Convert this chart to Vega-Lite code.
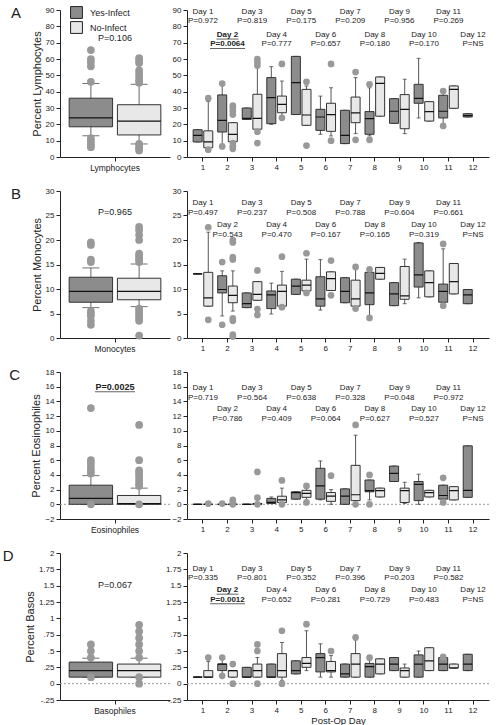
{
"$schema":"https://vega.github.io/schema/vega-lite/v6.json",
"padding":{"left":2,"top":6,"right":2,"bottom":2},
"config":{
 "font":"Liberation Sans",
 "view":{"stroke":null},
 "axis":{"grid":false,"domainColor":"#222","tickColor":"#222","labelColor":"#222","titleColor":"#222","labelFontSize":8,"titleFontSize":11,"titleFontWeight":"normal","tickSize":4,"labelPadding":2,"labelOverlap":false},
 "axisY":{"titlePadding":3},
 "title":{"font":"Liberation Sans","color":"#222"}
},
"datasets":{
 "boxAL":[
  {"cell":"Lymphocytes","group":"Yes-Infect","q1":18.5,"med":24,"q3":36,"lo":13,"hi":45},
  {"cell":"Lymphocytes","group":"No-Infect","q1":13.5,"med":22,"q3":32,"lo":8,"hi":44.5}],
 "outAL":[
  {"cell":"Lymphocytes","group":"Yes-Infect","v":65.5},{"cell":"Lymphocytes","group":"Yes-Infect","v":60},{"cell":"Lymphocytes","group":"Yes-Infect","v":58},{"cell":"Lymphocytes","group":"Yes-Infect","v":55.5},{"cell":"Lymphocytes","group":"Yes-Infect","v":46},{"cell":"Lymphocytes","group":"Yes-Infect","v":11.5},{"cell":"Lymphocytes","group":"Yes-Infect","v":10},{"cell":"Lymphocytes","group":"Yes-Infect","v":8.5},{"cell":"Lymphocytes","group":"Yes-Infect","v":7},{"cell":"Lymphocytes","group":"Yes-Infect","v":6},
  {"cell":"Lymphocytes","group":"No-Infect","v":60.5},{"cell":"Lymphocytes","group":"No-Infect","v":59},{"cell":"Lymphocytes","group":"No-Infect","v":57.5},{"cell":"Lymphocytes","group":"No-Infect","v":53},{"cell":"Lymphocytes","group":"No-Infect","v":51},{"cell":"Lymphocytes","group":"No-Infect","v":49},{"cell":"Lymphocytes","group":"No-Infect","v":47},{"cell":"Lymphocytes","group":"No-Infect","v":45.5},{"cell":"Lymphocytes","group":"No-Infect","v":8},{"cell":"Lymphocytes","group":"No-Infect","v":6.5},{"cell":"Lymphocytes","group":"No-Infect","v":5},{"cell":"Lymphocytes","group":"No-Infect","v":4}],
 "boxA":[
  {"day":1,"group":"Yes-Infect","q1":9.2,"med":13.3,"q3":16.7,"lo":9.2,"hi":16.7},
  {"day":1,"group":"No-Infect","q1":5.7,"med":9.2,"q3":16,"lo":5.7,"hi":34},
  {"day":2,"group":"Yes-Infect","q1":15.3,"med":22.4,"q3":38,"lo":6.5,"hi":45},
  {"day":2,"group":"No-Infect","q1":9.4,"med":13.9,"q3":21,"lo":9.4,"hi":21},
  {"day":3,"group":"Yes-Infect","q1":23,"med":23.6,"q3":30,"lo":23,"hi":30},
  {"day":3,"group":"No-Infect","q1":17,"med":23.7,"q3":38.4,"lo":17,"hi":54.7},
  {"day":4,"group":"Yes-Infect","q1":20.4,"med":36.3,"q3":48.6,"lo":20,"hi":55.3},
  {"day":4,"group":"No-Infect","q1":27.1,"med":32.2,"q3":37.3,"lo":24,"hi":46.5},
  {"day":5,"group":"Yes-Infect","q1":26,"med":45.5,"q3":61.6,"lo":26,"hi":61.6},
  {"day":5,"group":"No-Infect","q1":19.4,"med":25.7,"q3":41.4,"lo":19.4,"hi":43.5},
  {"day":6,"group":"Yes-Infect","q1":16.3,"med":24.5,"q3":29.2,"lo":13.9,"hi":37.3},
  {"day":6,"group":"No-Infect","q1":15.7,"med":26,"q3":32.9,"lo":12.9,"hi":42.4},
  {"day":7,"group":"Yes-Infect","q1":8.2,"med":13.3,"q3":28.6,"lo":8.2,"hi":28.6},
  {"day":7,"group":"No-Infect","q1":21,"med":27,"q3":36.7,"lo":14.3,"hi":48.6},
  {"day":8,"group":"Yes-Infect","q1":13.9,"med":23.5,"q3":27.8,"lo":12.9,"hi":42.4},
  {"day":8,"group":"No-Infect","q1":25,"med":45.1,"q3":49,"lo":25,"hi":49},
  {"day":9,"group":"Yes-Infect","q1":20.6,"med":28,"q3":35.7,"lo":20.6,"hi":35.7},
  {"day":9,"group":"No-Infect","q1":17.3,"med":29.2,"q3":38.2,"lo":14.3,"hi":47.6},
  {"day":10,"group":"Yes-Infect","q1":32.9,"med":35.9,"q3":44.5,"lo":23.9,"hi":60.4},
  {"day":10,"group":"No-Infect","q1":22,"med":27.8,"q3":33.9,"lo":22,"hi":33.9},
  {"day":11,"group":"Yes-Infect","q1":23.9,"med":28,"q3":37.8,"lo":19,"hi":40.4},
  {"day":11,"group":"No-Infect","q1":29.8,"med":41.4,"q3":43.5,"lo":29.8,"hi":43.5},
  {"day":12,"group":"Yes-Infect","q1":24.5,"med":25.3,"q3":26.5,"lo":24.5,"hi":26.5}],
 "outA":[
  {"day":1,"group":"No-Infect","v":36},{"day":1,"group":"No-Infect","v":4.5},
  {"day":2,"group":"Yes-Infect","v":45},{"day":2,"group":"Yes-Infect","v":6.5},
  {"day":2,"group":"No-Infect","v":31.5},{"day":2,"group":"No-Infect","v":30},{"day":2,"group":"No-Infect","v":28},{"day":2,"group":"No-Infect","v":26},{"day":2,"group":"No-Infect","v":8.5},{"day":2,"group":"No-Infect","v":6.5},{"day":2,"group":"No-Infect","v":5},
  {"day":3,"group":"No-Infect","v":60},{"day":3,"group":"No-Infect","v":58},{"day":3,"group":"No-Infect","v":56},{"day":3,"group":"No-Infect","v":15.5},{"day":3,"group":"No-Infect","v":8.5},
  {"day":4,"group":"No-Infect","v":57},{"day":4,"group":"No-Infect","v":24},
  {"day":5,"group":"No-Infect","v":46},{"day":5,"group":"No-Infect","v":7},
  {"day":6,"group":"No-Infect","v":57},{"day":6,"group":"No-Infect","v":10},
  {"day":7,"group":"No-Infect","v":52},{"day":7,"group":"No-Infect","v":10.5},
  {"day":8,"group":"Yes-Infect","v":44.5},{"day":8,"group":"Yes-Infect","v":10.5},
  {"day":11,"group":"Yes-Infect","v":40.4},{"day":11,"group":"Yes-Infect","v":19}],
 "annA":[
  {"day":1,"lab":"Day 1\nP=0.972"},{"day":2,"lab":"Day 2\nP=0.0064"},{"day":3,"lab":"Day 3\nP=0.819"},{"day":4,"lab":"Day 4\nP=0.777"},{"day":5,"lab":"Day 5\nP=0.175"},{"day":6,"lab":"Day 6\nP=0.657"},{"day":7,"lab":"Day 7\nP=0.209"},{"day":8,"lab":"Day 8\nP=0.180"},{"day":9,"lab":"Day 9\nP=0.956"},{"day":10,"lab":"Day 10\nP=0.170"},{"day":11,"lab":"Day 11\nP=0.269"},{"day":12,"lab":"Day 12\nP=NS"}],
 "boxBL":[
  {"cell":"Monocytes","group":"Yes-Infect","q1":7.3,"med":9.5,"q3":12.4,"lo":6.2,"hi":14.3},
  {"cell":"Monocytes","group":"No-Infect","q1":7.8,"med":9.5,"q3":12.2,"lo":6.4,"hi":15.1}],
 "outBL":[
  {"cell":"Monocytes","group":"Yes-Infect","v":19.5},{"cell":"Monocytes","group":"Yes-Infect","v":19},{"cell":"Monocytes","group":"Yes-Infect","v":16},{"cell":"Monocytes","group":"Yes-Infect","v":15.5},{"cell":"Monocytes","group":"Yes-Infect","v":5.5},{"cell":"Monocytes","group":"Yes-Infect","v":5},{"cell":"Monocytes","group":"Yes-Infect","v":4.5},{"cell":"Monocytes","group":"Yes-Infect","v":3.5},{"cell":"Monocytes","group":"Yes-Infect","v":2.7},
  {"cell":"Monocytes","group":"No-Infect","v":22.7},{"cell":"Monocytes","group":"No-Infect","v":22},{"cell":"Monocytes","group":"No-Infect","v":21},{"cell":"Monocytes","group":"No-Infect","v":20},{"cell":"Monocytes","group":"No-Infect","v":17.2},{"cell":"Monocytes","group":"No-Infect","v":16.8},{"cell":"Monocytes","group":"No-Infect","v":16.4},{"cell":"Monocytes","group":"No-Infect","v":16},{"cell":"Monocytes","group":"No-Infect","v":15.5},{"cell":"Monocytes","group":"No-Infect","v":6},{"cell":"Monocytes","group":"No-Infect","v":5.5},{"cell":"Monocytes","group":"No-Infect","v":5},{"cell":"Monocytes","group":"No-Infect","v":4.5},{"cell":"Monocytes","group":"No-Infect","v":4},{"cell":"Monocytes","group":"No-Infect","v":3.5},{"cell":"Monocytes","group":"No-Infect","v":0.5}],
 "boxB":[
  {"day":1,"group":"Yes-Infect","q1":13.1,"med":13.1,"q3":13.1,"lo":13.1,"hi":13.1},
  {"day":1,"group":"No-Infect","q1":6.5,"med":8.2,"q3":13.4,"lo":6.5,"hi":21.6},
  {"day":2,"group":"Yes-Infect","q1":9.2,"med":9.9,"q3":12.7,"lo":4.5,"hi":13.7},
  {"day":2,"group":"No-Infect","q1":7.2,"med":8.7,"q3":10.6,"lo":5.5,"hi":13.7},
  {"day":3,"group":"Yes-Infect","q1":6.2,"med":7.0,"q3":9.2,"lo":6.2,"hi":9.2},
  {"day":3,"group":"No-Infect","q1":7.7,"med":8.9,"q3":11.5,"lo":7.7,"hi":11.5},
  {"day":4,"group":"Yes-Infect","q1":6.0,"med":8.8,"q3":9.6,"lo":4.9,"hi":11.2},
  {"day":4,"group":"No-Infect","q1":6.5,"med":9.5,"q3":10.8,"lo":6.5,"hi":13.6},
  {"day":5,"group":"Yes-Infect","q1":8.9,"med":10.6,"q3":12,"lo":8.9,"hi":12},
  {"day":5,"group":"No-Infect","q1":9.6,"med":10.8,"q3":11.8,"lo":9.6,"hi":16.1},
  {"day":6,"group":"Yes-Infect","q1":6.5,"med":8,"q3":12.5,"lo":5.7,"hi":16},
  {"day":6,"group":"No-Infect","q1":9.7,"med":12.1,"q3":13.5,"lo":9.7,"hi":13.5},
  {"day":7,"group":"Yes-Infect","q1":7.2,"med":9.5,"q3":12.3,"lo":7.2,"hi":12.3},
  {"day":7,"group":"No-Infect","q1":6.5,"med":8,"q3":11.8,"lo":6.5,"hi":14.5},
  {"day":8,"group":"Yes-Infect","q1":6.8,"med":9.2,"q3":13.4,"lo":4.1,"hi":14},
  {"day":8,"group":"No-Infect","q1":12,"med":13.2,"q3":14.4,"lo":12,"hi":14.4},
  {"day":9,"group":"Yes-Infect","q1":6.6,"med":9,"q3":11.3,"lo":6.6,"hi":11.3},
  {"day":9,"group":"No-Infect","q1":7.9,"med":8.6,"q3":14.6,"lo":7,"hi":16.1},
  {"day":10,"group":"Yes-Infect","q1":10.4,"med":12.9,"q3":19.4,"lo":8.2,"hi":19.5},
  {"day":10,"group":"No-Infect","q1":8.4,"med":11.3,"q3":13.7,"lo":8.4,"hi":13.7},
  {"day":11,"group":"Yes-Infect","q1":7.3,"med":9.5,"q3":11,"lo":7.3,"hi":18.2},
  {"day":11,"group":"No-Infect","q1":9,"med":11.5,"q3":15.2,"lo":9,"hi":15.2},
  {"day":12,"group":"Yes-Infect","q1":7,"med":8.8,"q3":9.9,"lo":7,"hi":9.9}],
 "outB":[
  {"day":1,"group":"No-Infect","v":22.6},{"day":1,"group":"No-Infect","v":3.7},
  {"day":2,"group":"Yes-Infect","v":15.5},{"day":2,"group":"Yes-Infect","v":2.7},
  {"day":2,"group":"No-Infect","v":20},{"day":2,"group":"No-Infect","v":19.5},{"day":2,"group":"No-Infect","v":16.5},{"day":2,"group":"No-Infect","v":16},{"day":2,"group":"No-Infect","v":4},{"day":2,"group":"No-Infect","v":3.5},{"day":2,"group":"No-Infect","v":0.7},{"day":2,"group":"No-Infect","v":0.3},
  {"day":3,"group":"No-Infect","v":13.8},{"day":3,"group":"No-Infect","v":5.9},{"day":3,"group":"No-Infect","v":4.7},
  {"day":4,"group":"No-Infect","v":16.6},{"day":4,"group":"No-Infect","v":6.3},
  {"day":5,"group":"No-Infect","v":17.3},{"day":5,"group":"No-Infect","v":9.2},
  {"day":6,"group":"No-Infect","v":15.8},{"day":6,"group":"No-Infect","v":8.7},
  {"day":7,"group":"No-Infect","v":14.5},{"day":7,"group":"No-Infect","v":6.0},
  {"day":8,"group":"Yes-Infect","v":14},{"day":8,"group":"Yes-Infect","v":4.1},
  {"day":11,"group":"Yes-Infect","v":19.2},{"day":11,"group":"Yes-Infect","v":6.6}],
 "annB":[
  {"day":1,"lab":"Day 1\nP=0.497"},{"day":2,"lab":"Day 2\nP=0.543"},{"day":3,"lab":"Day 3\nP=0.237"},{"day":4,"lab":"Day 4\nP=0.470"},{"day":5,"lab":"Day 5\nP=0.508"},{"day":6,"lab":"Day 6\nP=0.167"},{"day":7,"lab":"Day 7\nP=0.788"},{"day":8,"lab":"Day 8\nP=0.165"},{"day":9,"lab":"Day 9\nP=0.604"},{"day":10,"lab":"Day 10\nP=0.319"},{"day":11,"lab":"Day 11\nP=0.661"},{"day":12,"lab":"Day 12\nP=NS"}],
 "boxCL":[
  {"cell":"Eosinophiles","group":"Yes-Infect","q1":0,"med":0.8,"q3":2.6,"lo":0,"hi":3.9},
  {"cell":"Eosinophiles","group":"No-Infect","q1":0,"med":0.1,"q3":1.2,"lo":0,"hi":2.2}],
 "outCL":[
  {"cell":"Eosinophiles","group":"Yes-Infect","v":13.1},{"cell":"Eosinophiles","group":"Yes-Infect","v":6},{"cell":"Eosinophiles","group":"Yes-Infect","v":5.6},{"cell":"Eosinophiles","group":"Yes-Infect","v":5.1},{"cell":"Eosinophiles","group":"Yes-Infect","v":4.6},{"cell":"Eosinophiles","group":"Yes-Infect","v":4.2},{"cell":"Eosinophiles","group":"Yes-Infect","v":0},
  {"cell":"Eosinophiles","group":"No-Infect","v":10.8},{"cell":"Eosinophiles","group":"No-Infect","v":6},{"cell":"Eosinophiles","group":"No-Infect","v":4.6},{"cell":"Eosinophiles","group":"No-Infect","v":4.3},{"cell":"Eosinophiles","group":"No-Infect","v":4},{"cell":"Eosinophiles","group":"No-Infect","v":3.6},{"cell":"Eosinophiles","group":"No-Infect","v":3.2},{"cell":"Eosinophiles","group":"No-Infect","v":2.8},{"cell":"Eosinophiles","group":"No-Infect","v":2.5},{"cell":"Eosinophiles","group":"No-Infect","v":0}],
 "boxC":[
  {"day":1,"group":"Yes-Infect","q1":0,"med":0,"q3":0,"lo":0,"hi":0},
  {"day":1,"group":"No-Infect","q1":0,"med":0,"q3":0,"lo":0,"hi":0},
  {"day":2,"group":"Yes-Infect","q1":0,"med":0,"q3":0,"lo":0,"hi":0},
  {"day":2,"group":"No-Infect","q1":0,"med":0,"q3":0,"lo":0,"hi":0},
  {"day":3,"group":"Yes-Infect","q1":0,"med":0,"q3":0,"lo":0,"hi":0},
  {"day":3,"group":"No-Infect","q1":0,"med":0.05,"q3":0.1,"lo":0,"hi":0.1},
  {"day":4,"group":"Yes-Infect","q1":0.1,"med":0.25,"q3":0.8,"lo":0.1,"hi":1.0},
  {"day":4,"group":"No-Infect","q1":0.25,"med":0.6,"q3":1.1,"lo":0.25,"hi":2.2},
  {"day":5,"group":"Yes-Infect","q1":0.7,"med":1.6,"q3":1.7,"lo":0.7,"hi":1.7},
  {"day":5,"group":"No-Infect","q1":0.95,"med":1.5,"q3":1.9,"lo":0.5,"hi":2.2},
  {"day":6,"group":"Yes-Infect","q1":0.7,"med":2.5,"q3":4.9,"lo":0.6,"hi":5.9},
  {"day":6,"group":"No-Infect","q1":0.4,"med":1.1,"q3":1.6,"lo":0,"hi":2.0},
  {"day":7,"group":"Yes-Infect","q1":0,"med":1.1,"q3":2.1,"lo":0,"hi":2.1},
  {"day":7,"group":"No-Infect","q1":0.5,"med":1.3,"q3":5.3,"lo":0.5,"hi":9.4},
  {"day":8,"group":"Yes-Infect","q1":1.7,"med":1.85,"q3":3.3,"lo":0.6,"hi":3.3},
  {"day":8,"group":"No-Infect","q1":1.0,"med":1.85,"q3":2.2,"lo":1.0,"hi":2.2},
  {"day":9,"group":"Yes-Infect","q1":3.1,"med":4.2,"q3":5.2,"lo":3.1,"hi":5.2},
  {"day":9,"group":"No-Infect","q1":0.25,"med":1.85,"q3":2.2,"lo":0.1,"hi":3.0},
  {"day":10,"group":"Yes-Infect","q1":0.5,"med":2.7,"q3":3.1,"lo":0,"hi":4.1},
  {"day":10,"group":"No-Infect","q1":1.0,"med":1.6,"q3":1.9,"lo":1.0,"hi":1.9},
  {"day":11,"group":"Yes-Infect","q1":0.7,"med":1.2,"q3":2.6,"lo":0.7,"hi":2.6},
  {"day":11,"group":"No-Infect","q1":0.6,"med":1.85,"q3":2.4,"lo":0.6,"hi":2.4},
  {"day":12,"group":"Yes-Infect","q1":0.95,"med":1.9,"q3":7.95,"lo":0.95,"hi":7.95}],
 "outC":[
  {"day":1,"group":"No-Infect","v":0.1},
  {"day":2,"group":"Yes-Infect","v":0.1},
  {"day":2,"group":"No-Infect","v":0.6},{"day":2,"group":"No-Infect","v":0.3},{"day":2,"group":"No-Infect","v":0},
  {"day":3,"group":"No-Infect","v":4.4},{"day":3,"group":"No-Infect","v":0.9},{"day":3,"group":"No-Infect","v":0},
  {"day":4,"group":"No-Infect","v":3.25},{"day":4,"group":"No-Infect","v":0},
  {"day":5,"group":"No-Infect","v":2.5},{"day":5,"group":"No-Infect","v":0.25},
  {"day":6,"group":"No-Infect","v":3.9},
  {"day":7,"group":"No-Infect","v":10.8},{"day":7,"group":"No-Infect","v":0},
  {"day":8,"group":"Yes-Infect","v":4.0},{"day":8,"group":"Yes-Infect","v":0},
  {"day":11,"group":"Yes-Infect","v":3.6},{"day":11,"group":"Yes-Infect","v":0.25}],
 "annC":[
  {"day":1,"lab":"Day 1\nP=0.719"},{"day":2,"lab":"Day 2\nP=0.786"},{"day":3,"lab":"Day 3\nP=0.564"},{"day":4,"lab":"Day 4\nP=0.409"},{"day":5,"lab":"Day 5\nP=0.638"},{"day":6,"lab":"Day 6\nP=0.064"},{"day":7,"lab":"Day 7\nP=0.328"},{"day":8,"lab":"Day 8\nP=0.627"},{"day":9,"lab":"Day 9\nP=0.048"},{"day":10,"lab":"Day 10\nP=0.527"},{"day":11,"lab":"Day 11\nP=0.972"},{"day":12,"lab":"Day 12\nP=NS"}],
 "boxDL":[
  {"cell":"Basophiles","group":"Yes-Infect","q1":0.1,"med":0.2,"q3":0.33,"lo":0.1,"hi":0.39},
  {"cell":"Basophiles","group":"No-Infect","q1":0.1,"med":0.2,"q3":0.3,"lo":0.1,"hi":0.39}],
 "outDL":[
  {"cell":"Basophiles","group":"Yes-Infect","v":0.6},{"cell":"Basophiles","group":"Yes-Infect","v":0.5},{"cell":"Basophiles","group":"Yes-Infect","v":0.4},{"cell":"Basophiles","group":"Yes-Infect","v":0.1},
  {"cell":"Basophiles","group":"No-Infect","v":0.9},{"cell":"Basophiles","group":"No-Infect","v":0.8},{"cell":"Basophiles","group":"No-Infect","v":0.7},{"cell":"Basophiles","group":"No-Infect","v":0.6},{"cell":"Basophiles","group":"No-Infect","v":0.5},{"cell":"Basophiles","group":"No-Infect","v":0.4},{"cell":"Basophiles","group":"No-Infect","v":0.1},{"cell":"Basophiles","group":"No-Infect","v":0}],
 "boxD":[
  {"day":1,"group":"Yes-Infect","q1":0.1,"med":0.1,"q3":0.1,"lo":0.1,"hi":0.1},
  {"day":1,"group":"No-Infect","q1":0.1,"med":0.1,"q3":0.2,"lo":0.1,"hi":0.34},
  {"day":2,"group":"Yes-Infect","q1":0.2,"med":0.3,"q3":0.3,"lo":0.12,"hi":0.4},
  {"day":2,"group":"No-Infect","q1":0.1,"med":0.2,"q3":0.2,"lo":0.1,"hi":0.2},
  {"day":3,"group":"Yes-Infect","q1":0.1,"med":0.1,"q3":0.25,"lo":0.1,"hi":0.25},
  {"day":3,"group":"No-Infect","q1":0.1,"med":0.2,"q3":0.3,"lo":0.1,"hi":0.4},
  {"day":4,"group":"Yes-Infect","q1":0.1,"med":0.1,"q3":0.3,"lo":0.1,"hi":0.3},
  {"day":4,"group":"No-Infect","q1":0.1,"med":0.2,"q3":0.46,"lo":0.05,"hi":0.63},
  {"day":5,"group":"Yes-Infect","q1":0.15,"med":0.2,"q3":0.35,"lo":0.15,"hi":0.35},
  {"day":5,"group":"No-Infect","q1":0.25,"med":0.31,"q3":0.4,"lo":0.2,"hi":0.81},
  {"day":6,"group":"Yes-Infect","q1":0.18,"med":0.4,"q3":0.46,"lo":0.1,"hi":0.61},
  {"day":6,"group":"No-Infect","q1":0.18,"med":0.2,"q3":0.34,"lo":0.1,"hi":0.43},
  {"day":7,"group":"Yes-Infect","q1":0.1,"med":0.15,"q3":0.3,"lo":0.1,"hi":0.3},
  {"day":7,"group":"No-Infect","q1":0.1,"med":0.3,"q3":0.46,"lo":0.1,"hi":0.67},
  {"day":8,"group":"Yes-Infect","q1":0.1,"med":0.26,"q3":0.31,"lo":0.1,"hi":0.36},
  {"day":8,"group":"No-Infect","q1":0.15,"med":0.3,"q3":0.38,"lo":0.15,"hi":0.38},
  {"day":9,"group":"Yes-Infect","q1":0.2,"med":0.3,"q3":0.4,"lo":0.2,"hi":0.4},
  {"day":9,"group":"No-Infect","q1":0.1,"med":0.2,"q3":0.24,"lo":0.1,"hi":0.3},
  {"day":10,"group":"Yes-Infect","q1":0.1,"med":0.3,"q3":0.44,"lo":0.1,"hi":0.5},
  {"day":10,"group":"No-Infect","q1":0.2,"med":0.35,"q3":0.55,"lo":0.2,"hi":0.55},
  {"day":11,"group":"Yes-Infect","q1":0.2,"med":0.3,"q3":0.4,"lo":0.2,"hi":0.4},
  {"day":11,"group":"No-Infect","q1":0.24,"med":0.24,"q3":0.3,"lo":0.24,"hi":0.3},
  {"day":12,"group":"Yes-Infect","q1":0.2,"med":0.3,"q3":0.45,"lo":0.2,"hi":0.45}],
 "outD":[
  {"day":1,"group":"No-Infect","v":0.4},
  {"day":2,"group":"Yes-Infect","v":0.4},{"day":2,"group":"Yes-Infect","v":0.12},
  {"day":2,"group":"No-Infect","v":0.3},{"day":2,"group":"No-Infect","v":0},
  {"day":3,"group":"No-Infect","v":0.6},{"day":3,"group":"No-Infect","v":0.5},{"day":3,"group":"No-Infect","v":0},
  {"day":4,"group":"No-Infect","v":0.81},{"day":4,"group":"No-Infect","v":0},
  {"day":5,"group":"No-Infect","v":0.91},
  {"day":6,"group":"No-Infect","v":0.5},
  {"day":7,"group":"No-Infect","v":0.71},
  {"day":8,"group":"Yes-Infect","v":0.4},
  {"day":11,"group":"Yes-Infect","v":0.41}],
 "annD":[
  {"day":1,"lab":"Day 1\nP=0.335"},{"day":2,"lab":"Day 2\nP=0.0012"},{"day":3,"lab":"Day 3\nP=0.801"},{"day":4,"lab":"Day 4\nP=0.652"},{"day":5,"lab":"Day 5\nP=0.352"},{"day":6,"lab":"Day 6\nP=0.281"},{"day":7,"lab":"Day 7\nP=0.396"},{"day":8,"lab":"Day 8\nP=0.729"},{"day":9,"lab":"Day 9\nP=0.203"},{"day":10,"lab":"Day 10\nP=0.483"},{"day":11,"lab":"Day 11\nP=0.582"},{"day":12,"lab":"Day 12\nP=NS"}]
},
"spacing":15,
"resolve":{"scale":{"fill":"independent","xOffset":"independent"},"legend":{"fill":"independent"}},
"vconcat":[
{"spacing":17,"bounds":"flush","resolve":{"scale":{"fill":"independent","xOffset":"independent"},"legend":{"fill":"independent"}},
 "hconcat":[
 {"width":110,"height":147,
  "title":{"text":"A","orient":"left","anchor":"end","angle":0,"fontSize":15,"fontWeight":"normal","baseline":"top","offset":0},
  "layer":[{"encoding":{"x":{"field":"cell","type":"nominal","scale":{"paddingInner":0,"paddingOuter":0.1},"axis":{"labelAngle":0,"labelFontSize":8.5},"title":null}},
   "layer":[
    {"data":{"name":"boxAL"},"mark":{"type":"rule","color":"#666"},"encoding":{"xOffset":{"field":"group","type":"nominal","scale":{"domain":["Yes-Infect","No-Infect"],"paddingInner":0.1}},"y":{"field":"lo","type":"quantitative","scale":{"domain":[0,90],"nice":false,"zero":false},"axis":{"values":[0,10,20,30,40,50,60,70,80,90],"tickCount":12,"labelOverlap":false,"labelBound":false},"title":"Percent Lymphocytes"},"y2":{"field":"hi"}}},
    {"data":{"name":"boxAL"},"mark":{"type":"tick","color":"#333","size":17,"thickness":1},"encoding":{"xOffset":{"field":"group","type":"nominal"},"y":{"field":"lo","type":"quantitative","title":"Percent Lymphocytes"}}},
    {"data":{"name":"boxAL"},"mark":{"type":"tick","color":"#333","size":17,"thickness":1},"encoding":{"xOffset":{"field":"group","type":"nominal"},"y":{"field":"hi","type":"quantitative","title":"Percent Lymphocytes"}}},
    {"data":{"name":"boxAL"},"mark":{"type":"bar","stroke":"#333","strokeWidth":1},"encoding":{"xOffset":{"field":"group","type":"nominal"},"y":{"field":"q1","type":"quantitative","title":"Percent Lymphocytes"},"y2":{"field":"q3"},"fill":{"field":"group","type":"nominal","scale":{"domain":["Yes-Infect","No-Infect"],"range":["#8c8c8c","#e8e8e8"]},"legend":{"orient":"none","legendX":10,"legendY":-4,"title":null,"symbolType":"square","symbolSize":140,"symbolStrokeColor":"#222","symbolStrokeWidth":1,"labelFontSize":9,"labelOffset":7,"rowPadding":-5,"padding":0,"labelColor":"#222"}}}},
    {"data":{"name":"boxAL"},"mark":{"type":"bar","fillOpacity":0,"stroke":"#111","strokeWidth":1.2},"encoding":{"xOffset":{"field":"group","type":"nominal"},"y":{"field":"med","type":"quantitative","title":"Percent Lymphocytes"},"y2":{"field":"med"}}},
    {"data":{"name":"outAL"},"mark":{"type":"point","filled":true,"color":"#999999","opacity":1,"size":60},"encoding":{"xOffset":{"field":"group","type":"nominal"},"y":{"field":"v","type":"quantitative","title":"Percent Lymphocytes"}}},
    {"data":{"values":[{"cell":"Lymphocytes","lab":"P=0.106"}]},"mark":{"type":"text","fontSize":9,"color":"#222"},"encoding":{"text":{"field":"lab"},"y":{"datum":72.9,"type":"quantitative","title":"Percent Lymphocytes"}}}
   ]}]},
 {"width":302,"height":147,
  "layer":[{"encoding":{"x":{"field":"day","type":"ordinal","scale":{"domain":[1,2,3,4,5,6,7,8,9,10,11,12],"paddingInner":0.2,"paddingOuter":0.25},"axis":{"labelAngle":0},"title":null}},
   "layer":[
    {"data":{"name":"boxA"},"mark":{"type":"rule","color":"#555"},"encoding":{"xOffset":{"field":"group","type":"nominal","scale":{"domain":["Yes-Infect","No-Infect"],"paddingInner":0.15}},"y":{"field":"lo","type":"quantitative","scale":{"domain":[0,90],"nice":false,"zero":false},"axis":{"values":[0,10,20,30,40,50,60,70,80,90],"tickCount":12,"labelOverlap":false,"labelBound":false},"title":null},"y2":{"field":"hi"}}},
    {"data":{"name":"boxA"},"mark":{"type":"tick","color":"#333","size":4,"thickness":1},"encoding":{"xOffset":{"field":"group","type":"nominal"},"y":{"field":"lo","type":"quantitative","title":null}}},
    {"data":{"name":"boxA"},"mark":{"type":"tick","color":"#333","size":4,"thickness":1},"encoding":{"xOffset":{"field":"group","type":"nominal"},"y":{"field":"hi","type":"quantitative","title":null}}},
    {"data":{"name":"boxA"},"mark":{"type":"bar","stroke":"#333","strokeWidth":1},"encoding":{"xOffset":{"field":"group","type":"nominal"},"y":{"field":"q1","type":"quantitative","title":null},"y2":{"field":"q3"},"fill":{"field":"group","type":"nominal","scale":{"domain":["Yes-Infect","No-Infect"],"range":["#8c8c8c","#e8e8e8"]},"legend":null}}},
    {"data":{"name":"boxA"},"mark":{"type":"bar","fillOpacity":0,"stroke":"#111","strokeWidth":1.2},"encoding":{"xOffset":{"field":"group","type":"nominal"},"y":{"field":"med","type":"quantitative","title":null},"y2":{"field":"med"}}},
    {"data":{"name":"outA"},"mark":{"type":"point","filled":true,"color":"#999999","opacity":1,"size":45},"encoding":{"xOffset":{"field":"group","type":"nominal"},"y":{"field":"v","type":"quantitative","title":null}}},
    {"data":{"name":"annA"},"transform":[{"filter":"datum.day % 2 == 1"}],"mark":{"type":"text","fontSize":8,"lineBreak":"\n","lineHeight":9.5,"baseline":"middle","color":"#222"},"encoding":{"text":{"field":"lab"},"y":{"datum":88.8,"type":"quantitative","title":null}}},
    {"data":{"name":"annA"},"transform":[{"filter":"datum.day % 2 == 0 && datum.day != 2"}],"mark":{"type":"text","fontSize":8,"lineBreak":"\n","lineHeight":9.5,"baseline":"middle","color":"#222"},"encoding":{"text":{"field":"lab"},"y":{"datum":74.7,"type":"quantitative","title":null}}},
    {"data":{"name":"annA"},"transform":[{"filter":"datum.day == 2"}],"mark":{"type":"text","fontSize":8,"fontWeight":"bold","lineBreak":"\n","lineHeight":9.5,"baseline":"middle","color":"#222"},"encoding":{"text":{"field":"lab"},"y":{"datum":74.7,"type":"quantitative","title":null}}},
    {"data":{"values":[{"day":2}]},"mark":{"type":"tick","size":22,"thickness":1,"color":"#222"},"encoding":{"y":{"datum":72.2,"type":"quantitative","title":null}}},
    {"data":{"values":[{"day":2}]},"mark":{"type":"tick","size":35,"thickness":1,"color":"#222"},"encoding":{"y":{"datum":66.4,"type":"quantitative","title":null}}}
   ]}]}
 ]},
{"spacing":17,"bounds":"flush","resolve":{"scale":{"fill":"independent","xOffset":"independent"},"legend":{"fill":"independent"}},
 "hconcat":[
 {"width":110,"height":147,
  "title":{"text":"B","orient":"left","anchor":"end","angle":0,"fontSize":15,"fontWeight":"normal","baseline":"top","offset":0},
  "layer":[{"encoding":{"x":{"field":"cell","type":"nominal","scale":{"paddingInner":0,"paddingOuter":0.1},"axis":{"labelAngle":0,"labelFontSize":8.5},"title":null}},
   "layer":[
    {"data":{"name":"boxBL"},"mark":{"type":"rule","color":"#666"},"encoding":{"xOffset":{"field":"group","type":"nominal","scale":{"domain":["Yes-Infect","No-Infect"],"paddingInner":0.1}},"y":{"field":"lo","type":"quantitative","scale":{"domain":[0,30],"nice":false,"zero":false},"axis":{"values":[0,5,10,15,20,25,30],"tickCount":12,"labelOverlap":false,"labelBound":false},"title":"Percent Monocytes"},"y2":{"field":"hi"}}},
    {"data":{"name":"boxBL"},"mark":{"type":"tick","color":"#333","size":17,"thickness":1},"encoding":{"xOffset":{"field":"group","type":"nominal"},"y":{"field":"lo","type":"quantitative","title":"Percent Monocytes"}}},
    {"data":{"name":"boxBL"},"mark":{"type":"tick","color":"#333","size":17,"thickness":1},"encoding":{"xOffset":{"field":"group","type":"nominal"},"y":{"field":"hi","type":"quantitative","title":"Percent Monocytes"}}},
    {"data":{"name":"boxBL"},"mark":{"type":"bar","stroke":"#333","strokeWidth":1},"encoding":{"xOffset":{"field":"group","type":"nominal"},"y":{"field":"q1","type":"quantitative","title":"Percent Monocytes"},"y2":{"field":"q3"},"fill":{"field":"group","type":"nominal","scale":{"domain":["Yes-Infect","No-Infect"],"range":["#8c8c8c","#e8e8e8"]},"legend":null}}},
    {"data":{"name":"boxBL"},"mark":{"type":"bar","fillOpacity":0,"stroke":"#111","strokeWidth":1.2},"encoding":{"xOffset":{"field":"group","type":"nominal"},"y":{"field":"med","type":"quantitative","title":"Percent Monocytes"},"y2":{"field":"med"}}},
    {"data":{"name":"outBL"},"mark":{"type":"point","filled":true,"color":"#999999","opacity":1,"size":60},"encoding":{"xOffset":{"field":"group","type":"nominal"},"y":{"field":"v","type":"quantitative","title":"Percent Monocytes"}}},
    {"data":{"values":[{"cell":"Monocytes","lab":"P=0.965"}]},"mark":{"type":"text","fontSize":9,"color":"#222"},"encoding":{"text":{"field":"lab"},"y":{"datum":25.7,"type":"quantitative","title":"Percent Monocytes"}}}
   ]}]},
 {"width":302,"height":147,
  "layer":[{"encoding":{"x":{"field":"day","type":"ordinal","scale":{"domain":[1,2,3,4,5,6,7,8,9,10,11,12],"paddingInner":0.2,"paddingOuter":0.25},"axis":{"labelAngle":0},"title":null}},
   "layer":[
    {"data":{"name":"boxB"},"mark":{"type":"rule","color":"#555"},"encoding":{"xOffset":{"field":"group","type":"nominal","scale":{"domain":["Yes-Infect","No-Infect"],"paddingInner":0.15}},"y":{"field":"lo","type":"quantitative","scale":{"domain":[0,30],"nice":false,"zero":false},"axis":{"values":[0,5,10,15,20,25,30],"tickCount":12,"labelOverlap":false,"labelBound":false},"title":null},"y2":{"field":"hi"}}},
    {"data":{"name":"boxB"},"mark":{"type":"tick","color":"#333","size":4,"thickness":1},"encoding":{"xOffset":{"field":"group","type":"nominal"},"y":{"field":"lo","type":"quantitative","title":null}}},
    {"data":{"name":"boxB"},"mark":{"type":"tick","color":"#333","size":4,"thickness":1},"encoding":{"xOffset":{"field":"group","type":"nominal"},"y":{"field":"hi","type":"quantitative","title":null}}},
    {"data":{"name":"boxB"},"mark":{"type":"bar","stroke":"#333","strokeWidth":1},"encoding":{"xOffset":{"field":"group","type":"nominal"},"y":{"field":"q1","type":"quantitative","title":null},"y2":{"field":"q3"},"fill":{"field":"group","type":"nominal","scale":{"domain":["Yes-Infect","No-Infect"],"range":["#8c8c8c","#e8e8e8"]},"legend":null}}},
    {"data":{"name":"boxB"},"mark":{"type":"bar","fillOpacity":0,"stroke":"#111","strokeWidth":1.2},"encoding":{"xOffset":{"field":"group","type":"nominal"},"y":{"field":"med","type":"quantitative","title":null},"y2":{"field":"med"}}},
    {"data":{"name":"outB"},"mark":{"type":"point","filled":true,"color":"#999999","opacity":1,"size":45},"encoding":{"xOffset":{"field":"group","type":"nominal"},"y":{"field":"v","type":"quantitative","title":null}}},
    {"data":{"name":"annB"},"transform":[{"filter":"datum.day % 2 == 1"}],"mark":{"type":"text","fontSize":8,"lineBreak":"\n","lineHeight":9.5,"baseline":"middle","color":"#222"},"encoding":{"text":{"field":"lab"},"y":{"datum":27.5,"type":"quantitative","title":null}}},
    {"data":{"name":"annB"},"transform":[{"filter":"datum.day % 2 == 0"}],"mark":{"type":"text","fontSize":8,"lineBreak":"\n","lineHeight":9.5,"baseline":"middle","color":"#222"},"encoding":{"text":{"field":"lab"},"y":{"datum":23.06,"type":"quantitative","title":null}}}
   ]}]}
 ]},
{"spacing":17,"bounds":"flush","resolve":{"scale":{"fill":"independent","xOffset":"independent"},"legend":{"fill":"independent"}},
 "hconcat":[
 {"width":110,"height":147,
  "title":{"text":"C","orient":"left","anchor":"end","angle":0,"fontSize":15,"fontWeight":"normal","baseline":"top","offset":0},
  "layer":[
   {"data":{"values":[{}]},"mark":{"type":"rule","color":"#999","strokeDash":[2,2],"strokeWidth":1},"encoding":{"y":{"datum":0,"type":"quantitative","title":"Percent Eosinophiles"}}},
   {"encoding":{"x":{"field":"cell","type":"nominal","scale":{"paddingInner":0,"paddingOuter":0.1},"axis":{"labelAngle":0,"labelFontSize":8.5},"title":null}},
   "layer":[
    {"data":{"name":"boxCL"},"mark":{"type":"rule","color":"#666"},"encoding":{"xOffset":{"field":"group","type":"nominal","scale":{"domain":["Yes-Infect","No-Infect"],"paddingInner":0.1}},"y":{"field":"lo","type":"quantitative","scale":{"domain":[-2,18],"nice":false,"zero":false},"axis":{"values":[-2,0,2,4,6,8,10,12,14,16,18],"tickCount":12,"labelOverlap":false,"labelBound":false},"title":"Percent Eosinophiles"},"y2":{"field":"hi"}}},
    {"data":{"name":"boxCL"},"mark":{"type":"tick","color":"#333","size":17,"thickness":1},"encoding":{"xOffset":{"field":"group","type":"nominal"},"y":{"field":"lo","type":"quantitative","title":"Percent Eosinophiles"}}},
    {"data":{"name":"boxCL"},"mark":{"type":"tick","color":"#333","size":17,"thickness":1},"encoding":{"xOffset":{"field":"group","type":"nominal"},"y":{"field":"hi","type":"quantitative","title":"Percent Eosinophiles"}}},
    {"data":{"name":"boxCL"},"mark":{"type":"bar","stroke":"#333","strokeWidth":1},"encoding":{"xOffset":{"field":"group","type":"nominal"},"y":{"field":"q1","type":"quantitative","title":"Percent Eosinophiles"},"y2":{"field":"q3"},"fill":{"field":"group","type":"nominal","scale":{"domain":["Yes-Infect","No-Infect"],"range":["#8c8c8c","#e8e8e8"]},"legend":null}}},
    {"data":{"name":"boxCL"},"mark":{"type":"bar","fillOpacity":0,"stroke":"#111","strokeWidth":1.2},"encoding":{"xOffset":{"field":"group","type":"nominal"},"y":{"field":"med","type":"quantitative","title":"Percent Eosinophiles"},"y2":{"field":"med"}}},
    {"data":{"name":"outCL"},"mark":{"type":"point","filled":true,"color":"#999999","opacity":1,"size":60},"encoding":{"xOffset":{"field":"group","type":"nominal"},"y":{"field":"v","type":"quantitative","title":"Percent Eosinophiles"}}},
    {"data":{"values":[{"cell":"Eosinophiles","lab":"P=0.0025"}]},"mark":{"type":"text","fontSize":9,"fontWeight":"bold","color":"#222"},"encoding":{"text":{"field":"lab"},"y":{"datum":16.0,"type":"quantitative","title":"Percent Eosinophiles"}}},
    {"data":{"values":[{"cell":"Eosinophiles"}]},"mark":{"type":"tick","size":40,"thickness":1,"color":"#222"},"encoding":{"y":{"datum":15.3,"type":"quantitative","title":"Percent Eosinophiles"}}}
   ]}]},
 {"width":302,"height":147,
  "layer":[
   {"data":{"values":[{}]},"mark":{"type":"rule","color":"#999","strokeDash":[2,2],"strokeWidth":1},"encoding":{"y":{"datum":0,"type":"quantitative","title":null}}},
   {"encoding":{"x":{"field":"day","type":"ordinal","scale":{"domain":[1,2,3,4,5,6,7,8,9,10,11,12],"paddingInner":0.2,"paddingOuter":0.25},"axis":{"labelAngle":0},"title":null}},
   "layer":[
    {"data":{"name":"boxC"},"mark":{"type":"rule","color":"#555"},"encoding":{"xOffset":{"field":"group","type":"nominal","scale":{"domain":["Yes-Infect","No-Infect"],"paddingInner":0.15}},"y":{"field":"lo","type":"quantitative","scale":{"domain":[-2,18],"nice":false,"zero":false},"axis":{"values":[-2,0,2,4,6,8,10,12,14,16,18],"tickCount":12,"labelOverlap":false,"labelBound":false},"title":null},"y2":{"field":"hi"}}},
    {"data":{"name":"boxC"},"mark":{"type":"tick","color":"#333","size":4,"thickness":1},"encoding":{"xOffset":{"field":"group","type":"nominal"},"y":{"field":"lo","type":"quantitative","title":null}}},
    {"data":{"name":"boxC"},"mark":{"type":"tick","color":"#333","size":4,"thickness":1},"encoding":{"xOffset":{"field":"group","type":"nominal"},"y":{"field":"hi","type":"quantitative","title":null}}},
    {"data":{"name":"boxC"},"mark":{"type":"bar","stroke":"#333","strokeWidth":1},"encoding":{"xOffset":{"field":"group","type":"nominal"},"y":{"field":"q1","type":"quantitative","title":null},"y2":{"field":"q3"},"fill":{"field":"group","type":"nominal","scale":{"domain":["Yes-Infect","No-Infect"],"range":["#8c8c8c","#e8e8e8"]},"legend":null}}},
    {"data":{"name":"boxC"},"mark":{"type":"bar","fillOpacity":0,"stroke":"#111","strokeWidth":1.2},"encoding":{"xOffset":{"field":"group","type":"nominal"},"y":{"field":"med","type":"quantitative","title":null},"y2":{"field":"med"}}},
    {"data":{"name":"outC"},"mark":{"type":"point","filled":true,"color":"#999999","opacity":1,"size":45},"encoding":{"xOffset":{"field":"group","type":"nominal"},"y":{"field":"v","type":"quantitative","title":null}}},
    {"data":{"name":"annC"},"transform":[{"filter":"datum.day % 2 == 1"}],"mark":{"type":"text","fontSize":8,"lineBreak":"\n","lineHeight":9.5,"baseline":"middle","color":"#222"},"encoding":{"text":{"field":"lab"},"y":{"datum":15.8,"type":"quantitative","title":null}}},
    {"data":{"name":"annC"},"transform":[{"filter":"datum.day % 2 == 0"}],"mark":{"type":"text","fontSize":8,"lineBreak":"\n","lineHeight":9.5,"baseline":"middle","color":"#222"},"encoding":{"text":{"field":"lab"},"y":{"datum":12.9,"type":"quantitative","title":null}}}
   ]}]}
 ]},
{"spacing":17,"bounds":"flush","resolve":{"scale":{"fill":"independent","xOffset":"independent"},"legend":{"fill":"independent"}},
 "hconcat":[
 {"width":110,"height":147,
  "title":{"text":"D","orient":"left","anchor":"end","angle":0,"fontSize":15,"fontWeight":"normal","baseline":"top","offset":0},
  "layer":[
   {"data":{"values":[{}]},"mark":{"type":"rule","color":"#999","strokeDash":[2,2],"strokeWidth":1},"encoding":{"y":{"datum":0,"type":"quantitative","title":"Percent Basos"}}},
   {"encoding":{"x":{"field":"cell","type":"nominal","scale":{"paddingInner":0,"paddingOuter":0.1},"axis":{"labelAngle":0,"labelFontSize":8.5},"title":null}},
   "layer":[
    {"data":{"name":"boxDL"},"mark":{"type":"rule","color":"#666"},"encoding":{"xOffset":{"field":"group","type":"nominal","scale":{"domain":["Yes-Infect","No-Infect"],"paddingInner":0.1}},"y":{"field":"lo","type":"quantitative","scale":{"domain":[-0.25,2],"nice":false,"zero":false},"axis":{"values":[-0.25,0,0.25,0.5,0.75,1,1.25,1.5,1.75,2],"tickCount":12,"labelOverlap":false,"labelBound":false,"labelExpr":"(datum.value < 0 ? '-' : '') + (datum.value != 0 && abs(datum.value) < 1 ? substring(format(abs(datum.value), '.2~f'), 1) : format(abs(datum.value), '.2~f'))"},"title":"Percent Basos"},"y2":{"field":"hi"}}},
    {"data":{"name":"boxDL"},"mark":{"type":"tick","color":"#333","size":17,"thickness":1},"encoding":{"xOffset":{"field":"group","type":"nominal"},"y":{"field":"lo","type":"quantitative","title":"Percent Basos"}}},
    {"data":{"name":"boxDL"},"mark":{"type":"tick","color":"#333","size":17,"thickness":1},"encoding":{"xOffset":{"field":"group","type":"nominal"},"y":{"field":"hi","type":"quantitative","title":"Percent Basos"}}},
    {"data":{"name":"boxDL"},"mark":{"type":"bar","stroke":"#333","strokeWidth":1},"encoding":{"xOffset":{"field":"group","type":"nominal"},"y":{"field":"q1","type":"quantitative","title":"Percent Basos"},"y2":{"field":"q3"},"fill":{"field":"group","type":"nominal","scale":{"domain":["Yes-Infect","No-Infect"],"range":["#8c8c8c","#e8e8e8"]},"legend":null}}},
    {"data":{"name":"boxDL"},"mark":{"type":"bar","fillOpacity":0,"stroke":"#111","strokeWidth":1.2},"encoding":{"xOffset":{"field":"group","type":"nominal"},"y":{"field":"med","type":"quantitative","title":"Percent Basos"},"y2":{"field":"med"}}},
    {"data":{"name":"outDL"},"mark":{"type":"point","filled":true,"color":"#999999","opacity":1,"size":60},"encoding":{"xOffset":{"field":"group","type":"nominal"},"y":{"field":"v","type":"quantitative","title":"Percent Basos"}}},
    {"data":{"values":[{"cell":"Basophiles","lab":"P=0.067"}]},"mark":{"type":"text","fontSize":9,"color":"#222"},"encoding":{"text":{"field":"lab"},"y":{"datum":1.51,"type":"quantitative","title":"Percent Basos"}}}
   ]}]},
 {"width":302,"height":147,
  "layer":[
   {"data":{"values":[{}]},"mark":{"type":"rule","color":"#999","strokeDash":[2,2],"strokeWidth":1},"encoding":{"y":{"datum":0,"type":"quantitative","title":null}}},
   {"encoding":{"x":{"field":"day","type":"ordinal","scale":{"domain":[1,2,3,4,5,6,7,8,9,10,11,12],"paddingInner":0.2,"paddingOuter":0.25},"axis":{"labelAngle":0,"titleFontSize":9.5,"titlePadding":1},"title":"Post-Op Day"}},
   "layer":[
    {"data":{"name":"boxD"},"mark":{"type":"rule","color":"#555"},"encoding":{"xOffset":{"field":"group","type":"nominal","scale":{"domain":["Yes-Infect","No-Infect"],"paddingInner":0.15}},"y":{"field":"lo","type":"quantitative","scale":{"domain":[-0.25,2],"nice":false,"zero":false},"axis":{"values":[-0.25,0,0.25,0.5,0.75,1,1.25,1.5,1.75,2],"tickCount":12,"labelOverlap":false,"labelBound":false,"labelExpr":"(datum.value < 0 ? '-' : '') + (datum.value != 0 && abs(datum.value) < 1 ? substring(format(abs(datum.value), '.2~f'), 1) : format(abs(datum.value), '.2~f'))"},"title":null},"y2":{"field":"hi"}}},
    {"data":{"name":"boxD"},"mark":{"type":"tick","color":"#333","size":4,"thickness":1},"encoding":{"xOffset":{"field":"group","type":"nominal"},"y":{"field":"lo","type":"quantitative","title":null}}},
    {"data":{"name":"boxD"},"mark":{"type":"tick","color":"#333","size":4,"thickness":1},"encoding":{"xOffset":{"field":"group","type":"nominal"},"y":{"field":"hi","type":"quantitative","title":null}}},
    {"data":{"name":"boxD"},"mark":{"type":"bar","stroke":"#333","strokeWidth":1},"encoding":{"xOffset":{"field":"group","type":"nominal"},"y":{"field":"q1","type":"quantitative","title":null},"y2":{"field":"q3"},"fill":{"field":"group","type":"nominal","scale":{"domain":["Yes-Infect","No-Infect"],"range":["#8c8c8c","#e8e8e8"]},"legend":null}}},
    {"data":{"name":"boxD"},"mark":{"type":"bar","fillOpacity":0,"stroke":"#111","strokeWidth":1.2},"encoding":{"xOffset":{"field":"group","type":"nominal"},"y":{"field":"med","type":"quantitative","title":null},"y2":{"field":"med"}}},
    {"data":{"name":"outD"},"mark":{"type":"point","filled":true,"color":"#999999","opacity":1,"size":45},"encoding":{"xOffset":{"field":"group","type":"nominal"},"y":{"field":"v","type":"quantitative","title":null}}},
    {"data":{"name":"annD"},"transform":[{"filter":"datum.day % 2 == 1"}],"mark":{"type":"text","fontSize":8,"lineBreak":"\n","lineHeight":9.5,"baseline":"middle","color":"#222"},"encoding":{"text":{"field":"lab"},"y":{"datum":1.76,"type":"quantitative","title":null}}},
    {"data":{"name":"annD"},"transform":[{"filter":"datum.day % 2 == 0 && datum.day != 2"}],"mark":{"type":"text","fontSize":8,"lineBreak":"\n","lineHeight":9.5,"baseline":"middle","color":"#222"},"encoding":{"text":{"field":"lab"},"y":{"datum":1.43,"type":"quantitative","title":null}}},
    {"data":{"name":"annD"},"transform":[{"filter":"datum.day == 2"}],"mark":{"type":"text","fontSize":8,"fontWeight":"bold","lineBreak":"\n","lineHeight":9.5,"baseline":"middle","color":"#222"},"encoding":{"text":{"field":"lab"},"y":{"datum":1.43,"type":"quantitative","title":null}}},
    {"data":{"values":[{"day":2}]},"mark":{"type":"tick","size":22,"thickness":1,"color":"#222"},"encoding":{"y":{"datum":1.37,"type":"quantitative","title":null}}},
    {"data":{"values":[{"day":2}]},"mark":{"type":"tick","size":35,"thickness":1,"color":"#222"},"encoding":{"y":{"datum":1.225,"type":"quantitative","title":null}}}
   ]}]}
 ]}
]
}
